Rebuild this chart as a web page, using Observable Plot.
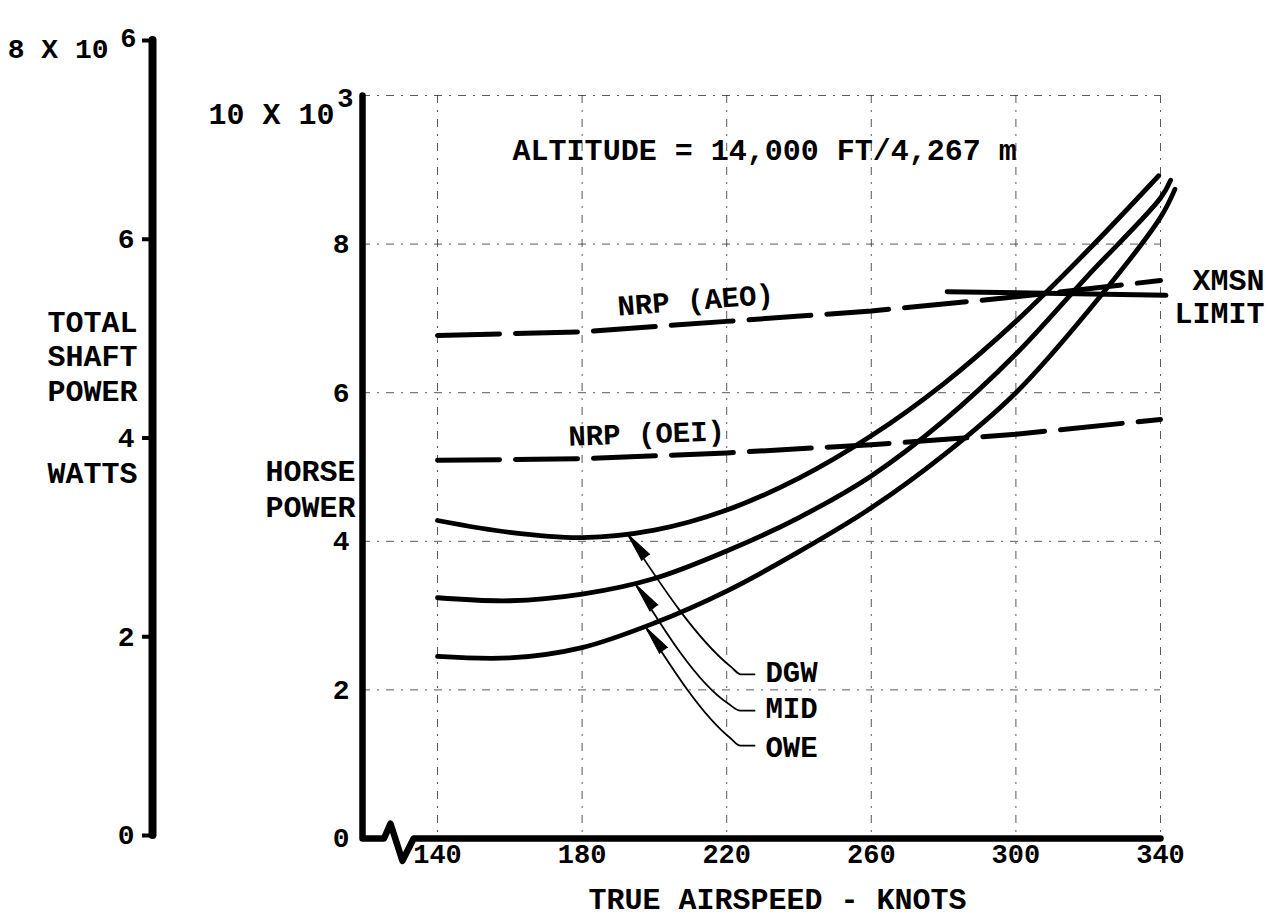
<!DOCTYPE html>
<html><head><meta charset="utf-8">
<script src="https://cdn.jsdelivr.net/npm/d3@7"></script>
<script src="https://cdn.jsdelivr.net/npm/@observablehq/plot@0.6"></script>
<style>
html,body{margin:0;padding:0;background:#fff;}
#chart{position:relative;width:1268px;height:920px;background:#fff;}
#chart svg{position:absolute;left:0;top:0;}
</style></head><body><div id="chart"></div>
<script>
// ---------- data ----------
const xTicks = [140, 180, 220, 260, 300, 340];
const hpTicks = [0, 2, 4, 6, 8];
const hpGrid = [2, 4, 6, 8, 10];
const wattTicks = [0, 2, 4, 6, 8];

const dgwSpeed = [140, 160, 180, 200, 220, 240, 260, 280, 300, 320, 339.5];
const dgwHP    = [4.28, 4.12, 4.05, 4.15, 4.42, 4.85, 5.42, 6.12, 6.96, 7.92, 8.92];
const midSpeed = [140, 160, 180, 200, 220, 240, 260, 280, 300, 320, 340, 342.8];
const midHP    = [3.24, 3.20, 3.29, 3.50, 3.87, 4.32, 4.88, 5.62, 6.52, 7.58, 8.62, 8.86];
const oweSpeed = [140, 160, 180, 200, 220, 240, 260, 280, 300, 320, 340, 344];
const oweHP    = [2.45, 2.43, 2.57, 2.90, 3.33, 3.86, 4.45, 5.16, 6.00, 7.10, 8.36, 8.74];

const nrpSpeed = [140, 180, 220, 260, 300, 340];
const aeoHP    = [6.77, 6.82, 6.96, 7.10, 7.29, 7.51];
const oeiHP    = [5.09, 5.11, 5.19, 5.30, 5.44, 5.64];

const xmsnSpeed = [281, 341.5];
const xmsnHP    = [7.36, 7.31];

const weightNames = ["DGW", "MID", "OWE"];
// leader lines: tip on curve -> bend -> corner -> end (knots, kHP)
const leaderX = [[192.5, 221.2, 223.9, 227.7], [194.8, 220.3, 223.8, 227.7], [197.5, 221.05, 223.8, 227.7]];
const leaderY = [[4.10, 2.31, 2.21, 2.21], [3.42, 1.82, 1.72, 1.72], [2.85, 1.35, 1.25, 1.25]];

// axis break on the speed axis
const breakX = [125.2, 127.0, 130.3, 133.4];
const breakY = [0, 0.2, -0.3, 0];

// ---------- layout ----------
const FONT = "'Courier New','Liberation Mono','DejaVu Sans Mono',monospace";
const W = 1268, H = 920;
const mL = 362, mR = 108, mT = 95, mB = 82;
const xOpts = {domain: [140, 340], range: [437, 1160]};
const yOpts = {domain: [0, 10], range: [838, 95]};
const sx = Plot.scale({x: xOpts});
const sy = Plot.scale({y: yOpts});
const xOrigin = sx.invert(mL);

const notes = [
  {text: "ALTITUDE = 14,000 FT/4,267 m", x: 230.5, y: 9.26, anchor: "middle", size: 30, rotate: 0},
  {text: "NRP (AEO)", x: 189.8, y: 7.16, anchor: "start", size: 29, rotate: -4.5},
  {text: "NRP (OEI)", x: 176.2, y: 5.41, anchor: "start", size: 29, rotate: -2},
  {text: "XMSN", x: 368.8, y: 7.51, anchor: "end", size: 30, rotate: 0},
  {text: "LIMIT", x: 368.8, y: 7.07, anchor: "end", size: 30, rotate: 0},
  {text: "DGW", x: 230.7, y: 2.23, anchor: "start", size: 29, rotate: 0},
  {text: "MID", x: 230.7, y: 1.74, anchor: "start", size: 29, rotate: 0},
  {text: "OWE", x: 230.7, y: 1.22, anchor: "start", size: 29, rotate: 0}
];

// ---------- tables ----------
const curveRows = [];
[[weightNames[0], dgwSpeed, dgwHP], [weightNames[1], midSpeed, midHP], [weightNames[2], oweSpeed, oweHP]]
  .forEach(([name, s, h]) => s.forEach((v, i) => curveRows.push({name, speed: v, hp: h[i]})));
const nrpRows = [];
nrpSpeed.forEach((v, i) => { nrpRows.push({name: "AEO", speed: v, hp: aeoHP[i]}); nrpRows.push({name: "OEI", speed: v, hp: oeiHP[i]}); });
const xmsnRows = xmsnSpeed.map((v, i) => ({speed: v, hp: xmsnHP[i]}));
const leaderRows = [];
weightNames.forEach((n, k) => leaderX[k].forEach((v, i) => leaderRows.push({name: n, speed: v, hp: leaderY[k][i]})));
const arrowRows = weightNames.map((n, k) => {
  const tx = sx.apply(leaderX[k][0]), ty = sy.apply(leaderY[k][0]);
  const bx = sx.apply(leaderX[k][1]), by = sy.apply(leaderY[k][1]);
  return {name: n, speed: leaderX[k][0], hp: leaderY[k][0], rot: Math.atan2(tx - bx, -(ty - by)) * 180 / Math.PI};
});
const axisRows = [{speed: xOrigin, hp: 10}, {speed: xOrigin, hp: 0}]
  .concat(breakX.map((v, i) => ({speed: v, hp: breakY[i]})))
  .concat([{speed: 340, hp: 0}]);

const gridStyle = {stroke: "#222", strokeWidth: 1, strokeDasharray: "8,7,2,7", strokeOpacity: 0.75};
const textStyle = {fill: "black", fontWeight: "bold", fontFamily: FONT};

const main = Plot.plot({
  width: W, height: H,
  marginLeft: mL, marginRight: mR, marginTop: mT, marginBottom: mB,
  x: {...xOpts, axis: null},
  y: {...yOpts, axis: null},
  style: {fontFamily: FONT, fontWeight: "bold", background: "transparent", color: "black", overflow: "visible"},
  marks: [
    Plot.ruleX(xTicks, gridStyle),
    Plot.ruleY(hpGrid, gridStyle),
    Plot.line(axisRows, {x: "speed", y: "hp", stroke: "black", strokeWidth: 6.5, strokeLinejoin: "round", strokeLinecap: "round"}),
    Plot.line(nrpRows, {x: "speed", y: "hp", z: "name", stroke: "black", strokeWidth: 5, strokeDasharray: "62,16", strokeLinecap: "round"}),
    Plot.line(xmsnRows, {x: "speed", y: "hp", stroke: "black", strokeWidth: 5, strokeLinecap: "round"}),
    Plot.line(curveRows, {x: "speed", y: "hp", z: "name", stroke: "black", strokeWidth: 4.8, curve: "catmull-rom", strokeLinecap: "round"}),
    Plot.line(leaderRows, {x: "speed", y: "hp", z: "name", stroke: "black", strokeWidth: 1.8, curve: "monotone-x"}),
    Plot.vector(arrowRows, {x: "speed", y: "hp", rotate: "rot", length: 30, r: 5, shape: "spike", anchor: "end", fill: "black", stroke: "black", strokeWidth: 1}),
    Plot.text(hpTicks, {y: d => d, text: d => String(d), frameAnchor: "left", dx: -13, textAnchor: "end", fontSize: 28, ...textStyle}),
    Plot.text(["10 X 10"], {frameAnchor: "top-left", dx: -28, dy: 7, textAnchor: "end", fontSize: 30, ...textStyle}),
    Plot.text(["3"], {frameAnchor: "top-left", dx: -9, dy: -8, textAnchor: "end", fontSize: 27, ...textStyle}),
    Plot.text(["HORSE\nPOWER"], {frameAnchor: "left", y: 4.72, dx: -7, textAnchor: "end", lineHeight: 1.2, fontSize: 30, ...textStyle}),
    Plot.text(xTicks, {x: d => d, text: d => String(d), frameAnchor: "bottom", dy: 24, fontSize: 27, ...textStyle}),
    Plot.text(["TRUE AIRSPEED - KNOTS"], {frameAnchor: "bottom", dx: 16, dy: 70, fontSize: 30, ...textStyle}),
    Plot.text(notes.filter(d => d.anchor === "middle"), {x: "x", y: "y", text: "text", rotate: "rotate", fontSize: "size", textAnchor: "middle", ...textStyle}),
    Plot.text(notes.filter(d => d.anchor === "start"), {x: "x", y: "y", text: "text", rotate: "rotate", fontSize: "size", textAnchor: "start", ...textStyle}),
    Plot.text(notes.filter(d => d.anchor === "end"), {x: "x", y: "y", text: "text", rotate: "rotate", fontSize: "size", textAnchor: "end", ...textStyle})
  ]
});

const watts = Plot.plot({
  width: 200, height: H,
  marginLeft: 152, marginRight: 40, marginTop: 40, marginBottom: 85,
  x: {domain: [0, 1], axis: null},
  y: {domain: [0, 8], axis: null},
  style: {fontFamily: FONT, fontWeight: "bold", background: "transparent", color: "black", overflow: "visible"},
  marks: [
    Plot.ruleX([0], {y1: 0, y2: 8, stroke: "black", strokeWidth: 8, strokeLinecap: "round"}),
    Plot.axisY({ticks: wattTicks, tickSize: 10, tickPadding: 8, strokeWidth: 4, label: null,
      tickFormat: d => d === 8 ? "" : String(d), fontSize: 28, fontWeight: "bold", fontFamily: FONT}),
    Plot.text(["8 X 10"], {frameAnchor: "top-left", dx: -44, dy: -2, textAnchor: "end", fontSize: 28, ...textStyle}),
    Plot.text(["6"], {frameAnchor: "top-left", dx: -16, dy: -13, textAnchor: "end", fontSize: 27, ...textStyle}),
    Plot.text(["TOTAL\nSHAFT\nPOWER"], {frameAnchor: "left", y: 4.83, dx: -15, textAnchor: "end", lineHeight: 1.14, fontSize: 30, ...textStyle}),
    Plot.text(["WATTS"], {frameAnchor: "left", y: 3.64, dx: -15, textAnchor: "end", fontSize: 30, ...textStyle})
  ]
});

const el = document.getElementById("chart");
el.appendChild(main);
el.appendChild(watts);
</script></body></html>
